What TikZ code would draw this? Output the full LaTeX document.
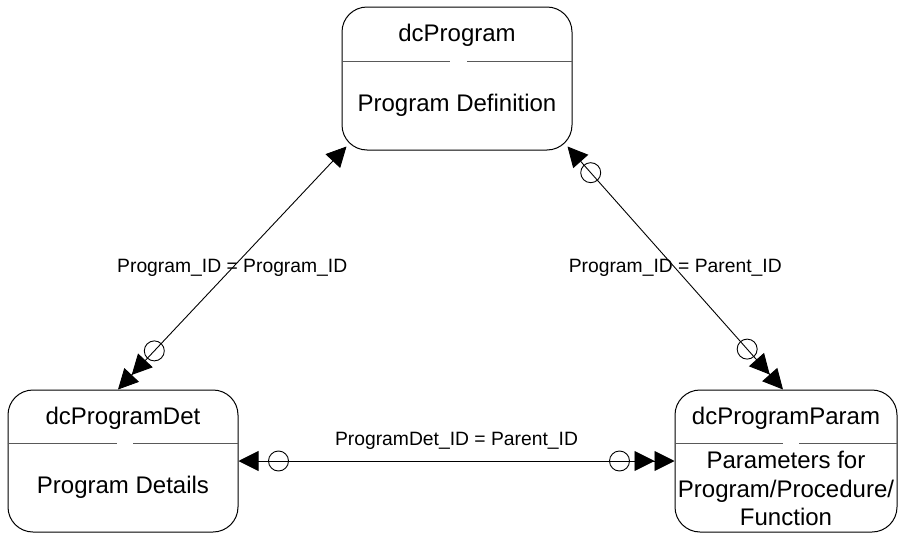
\documentclass[tikz,border=0pt]{standalone}
\usepackage{fontspec}
\setmainfont{Liberation Sans}
\usetikzlibrary{arrows.meta,calc}
\begin{document}
\begin{tikzpicture}[x=1pt,y=-1pt,
  box/.style={draw, line width=1pt, rounded corners=25pt, inner sep=0pt},
  ttl/.style={font=\fontsize{24}{28.5}\selectfont, inner sep=0pt, align=center},
  lbl/.style={font=\fontsize{19.3}{23}\selectfont, inner sep=0pt},
  div/.style={draw=black!65, line width=0.9pt},
  conn/.style={draw, line width=0.9pt},
  circ/.style={draw, circle, minimum size=20pt, inner sep=0pt, line width=0.9pt},
  ends/.style={{Triangle[length=20pt,width=20pt,sep=0pt]}-{Triangle[length=20pt,width=20pt,sep=0pt]Triangle[length=20pt,width=20pt,sep=0pt]}}
]
\useasboundingbox (0,0) rectangle (898,533);

% boxes
\node[box, minimum width=230pt, minimum height=143pt] (prog) at (457,78.5) {};
\node[box, minimum width=230pt, minimum height=142pt] (det) at (123,461) {};
\node[box, minimum width=222pt, minimum height=142pt] (param) at (786,461) {};

% texts
\node[ttl] (progT) at (457,35) {dcProgram};
\node[ttl] (progD) at (457,105) {Program Definition};
\node[ttl] (detT) at (123,418) {dcProgramDet};
\node[ttl] (detD) at (123,487) {Program Details};
\node[ttl] (paramT) at (786,418) {dcProgramParam};
\node[ttl] (paramD) at (786,488.5) {Parameters for\\Program/Procedure/\\Function};

% dividers
\draw[div] (prog.west |- 0,61) -- (450,61) (467,61) -- (prog.east |- 0,61);
\draw[div] (det.west |- 0,443) -- (117,443) (133,443) -- (det.east |- 0,443);
\draw[div] (param.west |- 0,443) -- (783,443) (799,443) -- (param.east |- 0,443);

% connector end points
\coordinate (a1) at ($(prog.south west)+(5,-4)$);
\coordinate (b1) at ($(det.north)+(-5,0)$);
\coordinate (a2) at ($(prog.south east)+(-5,-4)$);
\coordinate (b2) at ($(param.north)+(-3,0)$);

% connectors
\draw[conn, ends] (a1) -- (b1);
\node[circ] (c1b) at ($(b1)!53pt!(a1)$) {};
\node[lbl] (l1) at ($(a1)!0.5!(b1)$) {Program\_ID = Program\_ID};

\draw[conn, ends] (a2) -- (b2);
\node[circ] (c2a) at ($(a2)!35pt!(b2)$) {};
\node[circ] (c2b) at ($(b2)!54pt!(a2)$) {};
\node[lbl] (l2) at ($(a2)!0.5!(b2)$) {Program\_ID = Parent\_ID};

\draw[conn, ends] (det.east) -- (param.west);
\node[circ] (c3a) at ($(det.east)!40pt!(param.west)$) {};
\node[circ] (c3b) at ($(param.west)!55pt!(det.east)$) {};
\node[lbl] (l3) at ($($(det.east)!0.5!(param.west)$)+(0,-20)$) {ProgramDet\_ID = Parent\_ID};
\end{tikzpicture}
\end{document}
